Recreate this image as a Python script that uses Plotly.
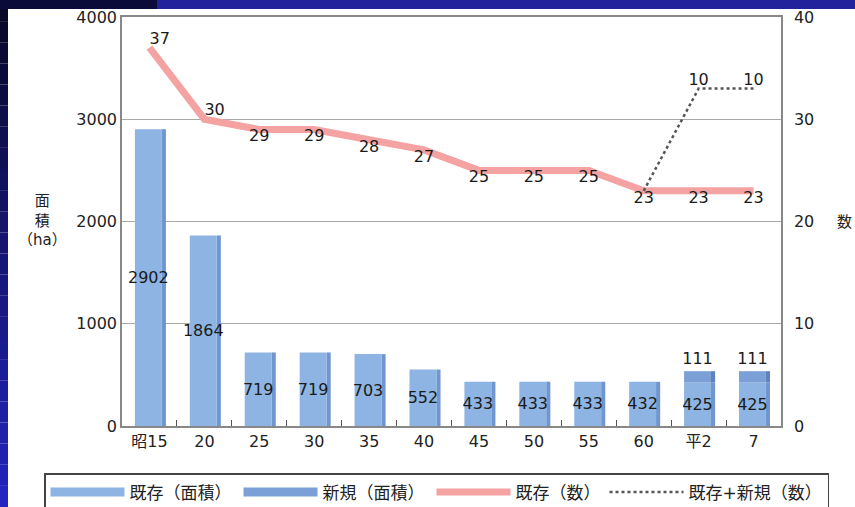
import plotly.graph_objects as go

categories = ["昭15", "20", "25", "30", "35", "40", "45", "50", "55", "60", "平2", "7"]
area_existing = [2902, 1864, 719, 719, 703, 552, 433, 433, 433, 432, 425, 425]
area_new = [None, None, None, None, None, None, None, None, None, None, 111, 111]
count_existing = [37, 30, 29, 29, 28, 27, 25, 25, 25, 23, 23, 23]
count_new = [None, None, None, None, None, None, None, None, None, 0, 10, 10]

FONT = "DejaVu Sans, Noto Sans CJK JP, sans-serif"
C_FRONT = "#8db4e3"
C_SIDE = "#6f96cf"
C_NEW = "#7b9fd7"
C_NEW_SIDE = "#5f82bf"
C_LINE = "#f4a2a2"

fig = go.Figure()

# side (depth) faces of bars
fig.add_trace(go.Bar(x=categories, y=area_existing, width=0.075, offset=0.225,
                     marker=dict(color=C_SIDE, line=dict(width=0)), showlegend=False,
                     hoverinfo="skip"))
new_base = [e if n is not None else None for e, n in zip(area_existing, area_new)]
fig.add_trace(go.Bar(x=categories, y=area_new, base=new_base, width=0.075, offset=0.225,
                     marker=dict(color=C_NEW_SIDE, line=dict(width=0)), showlegend=False,
                     hoverinfo="skip"))
# front faces
fig.add_trace(go.Bar(x=categories, y=area_existing, width=0.49, offset=-0.265,
                     marker=dict(color=C_FRONT, line=dict(width=0)), showlegend=False,
                     text=[str(v) for v in area_existing], textposition="inside",
                     insidetextanchor="middle", textangle=0,
                     textfont=dict(size=16, color="#1a1a1a", family=FONT)))
fig.add_trace(go.Bar(x=categories, y=area_new, base=new_base, width=0.49, offset=-0.265,
                     marker=dict(color=C_NEW, line=dict(width=0)), showlegend=False,
                     text=[str(v) if v is not None else "" for v in area_new],
                     textposition="outside", textangle=0,
                     textfont=dict(size=16, color="#1a1a1a", family=FONT)))

# legend proxies for bars
fig.add_trace(go.Scatter(x=[None], y=[None], mode="lines", name="既存（面積）",
                         line=dict(color=C_FRONT, width=9), legendwidth=104))
fig.add_trace(go.Scatter(x=[None], y=[None], mode="lines", name="新規（面積）",
                         line=dict(color=C_NEW, width=9), legendwidth=104))

# existing count line
pos = ["top right", "top right"] + ["bottom center"] * (len(categories) - 2)
fig.add_trace(go.Scatter(x=categories, y=count_existing, yaxis="y2", mode="lines+text",
                         name="既存（数）", line=dict(color=C_LINE, width=7),
                         text=[str(v) for v in count_existing], textposition=pos,
                         textfont=dict(size=16, color="#1a1a1a", family=FONT),
                         cliponaxis=False, legendwidth=84))

# existing + new dotted line
dx, dy, dt = [], [], []
for c, e, n in zip(categories, count_existing, count_new):
    if n is not None:
        dx.append(c)
        dy.append(e + n)
        dt.append(str(n) if n else "")
fig.add_trace(go.Scatter(x=dx, y=dy, yaxis="y2", mode="lines+text",
                         name="既存+新規（数）", line=dict(color="#555555", width=2.5, dash="dot"),
                         text=dt, textposition="top center",
                         textfont=dict(size=16, color="#1a1a1a", family=FONT),
                         cliponaxis=False))

# decorative dark frame strips
W, H = 855, 507
L, R, T, B = 122, 781, 17, 426
def px(x):
    return (x - L) / (R - L)
def py(y):
    return (B - y) / (B - T)

shapes = []
n = 24
for i in range(n):
    t = i / (n - 1)
    r = int(8 + (36 - 8) * t)
    g = int(8 + (36 - 8) * t)
    b = int(40 + (190 - 40) * t)
    shapes.append(dict(type="rect", xref="paper", yref="paper", x0=px(0), x1=px(8),
                       y0=py(H * (i + 1) / n), y1=py(H * i / n),
                       fillcolor=f"rgb({r},{g},{b})", line=dict(width=0), layer="above"))
shapes.append(dict(type="rect", xref="paper", yref="paper", x0=px(0), x1=px(157),
                   y0=py(9), y1=py(0), fillcolor="#0b0b3a", line=dict(width=0), layer="above"))
shapes.append(dict(type="rect", xref="paper", yref="paper", x0=px(157), x1=px(W),
                   y0=py(9), y1=py(0), fillcolor="#22229c", line=dict(width=0), layer="above"))

fig.update_layout(
    width=W, height=H,
    margin=dict(l=L, r=W - R, t=T, b=H - B, pad=0, autoexpand=False),
    paper_bgcolor="white", plot_bgcolor="white",
    barmode="overlay",
    font=dict(family=FONT, size=16, color="#222"),
    uniformtext=dict(minsize=16, mode="show"),
    xaxis=dict(type="category", range=[-0.5, 11.5], showline=True, mirror=True,
               linecolor="#888", linewidth=1.5, ticks="inside", tickson="boundaries",
               ticklen=6, tickcolor="#555", showgrid=False,
               tickfont=dict(size=16, color="#222")),
    yaxis=dict(range=[0, 4000], dtick=1000, showline=True, mirror=True, linecolor="#888",
               linewidth=1.5, gridcolor="#a8a8a8", gridwidth=1, zeroline=False,
               ticks="", tickfont=dict(size=16, color="#222")),
    yaxis2=dict(range=[0, 40], dtick=10, overlaying="y", side="right", showgrid=False,
                showline=True, linecolor="#888", linewidth=1.5, zeroline=False,
                ticks="", tickfont=dict(size=16, color="#222"), ticklabelstandoff=8),
    legend=dict(orientation="h", x=px(44), xanchor="left", y=py(473), yanchor="top",
                bordercolor="#444", borderwidth=1.5, bgcolor="white",
                font=dict(size=17, color="#222"), itemwidth=74, tracegroupgap=0),
    shapes=shapes,
    annotations=[
        dict(text="面<br>積<br>（ha）", xref="paper", yref="paper", x=px(42), y=py(220),
             xanchor="center", yanchor="middle",
             showarrow=False, font=dict(size=15, color="#222"), align="center"),
        dict(text="数", xref="paper", yref="paper", x=px(845), y=py(222),
             xanchor="center", yanchor="middle",
             showarrow=False, font=dict(size=15, color="#222")),
    ],
)

fig.write_html("out.html", config={"displayModeBar": False},
               post_script="document.body.style.margin='0px';document.body.style.overflow='hidden';")
